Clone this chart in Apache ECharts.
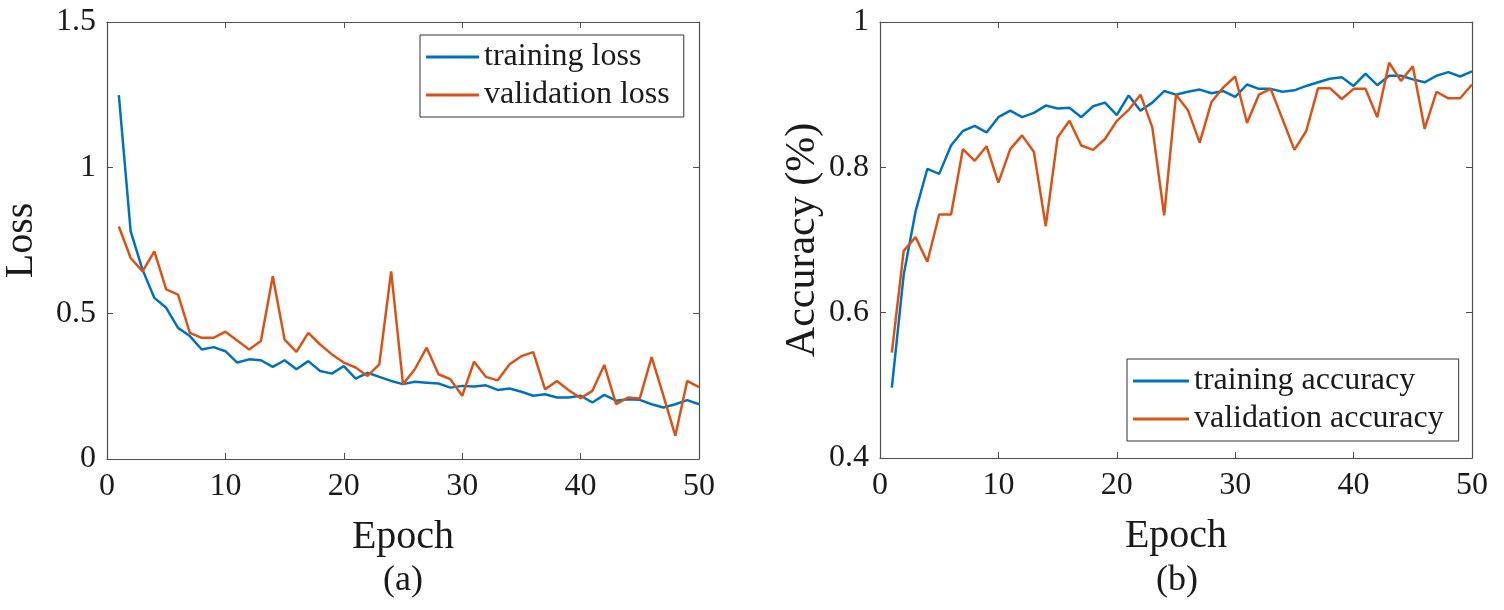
<!DOCTYPE html>
<html>
<head>
<meta charset="utf-8">
<script src="https://cdn.jsdelivr.net/npm/echarts@6/dist/echarts.min.js"></script>
<style>
  html, body { margin: 0; padding: 0; background: #fff; }
  #main { width: 1504px; height: 610px; }
</style>
</head>
<body>
<div id="main"></div>
<script>
// epochs on x axis
var epochs = [1, 2, 3, 4, 5, 6, 7, 8, 9, 10, 11, 12, 13, 14, 15, 16, 17, 18, 19, 20,
  21, 22, 23, 24, 25, 26, 27, 28, 29, 30, 31, 32, 33, 34, 35, 36, 37, 38, 39, 40,
  41, 42, 43, 44, 45, 46, 47, 48, 49, 50];

var trainLoss = [1.249, 0.781, 0.65, 0.553, 0.519, 0.45, 0.422, 0.376, 0.384, 0.37,
  0.331, 0.342, 0.339, 0.316, 0.339, 0.308, 0.336, 0.302, 0.293, 0.319,
  0.276, 0.296, 0.282, 0.268, 0.257, 0.265, 0.262, 0.259, 0.245, 0.251,
  0.249, 0.253, 0.237, 0.242, 0.231, 0.217, 0.222, 0.211, 0.211, 0.217,
  0.194, 0.22, 0.2, 0.205, 0.203, 0.188, 0.177, 0.188, 0.202, 0.188];

var valLoss = [0.798, 0.69, 0.644, 0.713, 0.582, 0.564, 0.433, 0.416, 0.416, 0.437,
  0.407, 0.376, 0.405, 0.627, 0.41, 0.368, 0.433, 0.393, 0.359, 0.331,
  0.314, 0.285, 0.325, 0.644, 0.257, 0.308, 0.382, 0.291, 0.274, 0.217,
  0.334, 0.282, 0.27, 0.325, 0.353, 0.367, 0.239, 0.268, 0.236, 0.209,
  0.234, 0.323, 0.188, 0.211, 0.208, 0.35, 0.217, 0.08, 0.268, 0.247];

var trainAcc = [0.497, 0.652, 0.739, 0.798, 0.791, 0.83, 0.85, 0.857, 0.848, 0.869,
  0.878, 0.869, 0.875, 0.885, 0.881, 0.882, 0.869, 0.884, 0.889, 0.872,
  0.899, 0.878, 0.889, 0.905, 0.9, 0.904, 0.907, 0.902, 0.905, 0.897,
  0.914, 0.908, 0.908, 0.904, 0.906, 0.912, 0.917, 0.922, 0.924, 0.912,
  0.929, 0.913, 0.926, 0.926, 0.921, 0.917, 0.926, 0.931, 0.925, 0.932];

var valAcc = [0.545, 0.685, 0.704, 0.67, 0.735, 0.735, 0.825, 0.809, 0.829, 0.779,
  0.825, 0.844, 0.821, 0.719, 0.841, 0.864, 0.83, 0.824, 0.839, 0.864,
  0.879, 0.9, 0.855, 0.734, 0.9, 0.879, 0.834, 0.89, 0.91, 0.925,
  0.861, 0.9, 0.908, 0.866, 0.824, 0.85, 0.909, 0.909, 0.894, 0.908,
  0.908, 0.869, 0.944, 0.919, 0.939, 0.853, 0.904, 0.895, 0.895, 0.914];

var xTicks = { min: 0, max: 50, interval: 10 };
var lossTicks = { min: 0, max: 1.5, interval: 0.5 };
var accTicks = { min: 0.4, max: 1, interval: 0.2 };

var FONT = 'Liberation Serif';
var AXIS_COLOR = '#4d4d4d';
var BLUE = '#0072BD';
var ORANGE = '#D95319';

function pairs(ys) {
  return epochs.map(function (e, i) { return [e, ys[i]]; });
}

// bottom / left axes carry labels, top / right ones only close the box
function xAx(grid, name, top) {
  return {
    type: 'value', gridIndex: grid, position: top ? 'top' : 'bottom',
    min: xTicks.min, max: xTicks.max, interval: xTicks.interval,
    name: top ? '' : name, nameLocation: 'middle', nameGap: 58,
    nameTextStyle: { fontFamily: FONT, fontSize: 40, color: '#1a1a1a' },
    axisLine: { show: true, onZero: false, lineStyle: { color: AXIS_COLOR, width: 1.2 } },
    axisTick: { show: true, inside: true, length: 6, lineStyle: { color: AXIS_COLOR } },
    axisLabel: { show: !top, fontFamily: FONT, fontSize: 32, color: '#1a1a1a', margin: 12 },
    splitLine: { show: false }
  };
}

function yAx(grid, ticks, name, gap, size, right) {
  return {
    type: 'value', gridIndex: grid, position: right ? 'right' : 'left',
    min: ticks.min, max: ticks.max, interval: ticks.interval,
    name: right ? '' : name, nameLocation: 'middle', nameGap: gap,
    nameTextStyle: { fontFamily: FONT, fontSize: size, color: '#1a1a1a' },
    axisLine: { show: true, onZero: false, lineStyle: { color: AXIS_COLOR, width: 1.2 } },
    axisTick: { show: true, inside: true, length: 6, lineStyle: { color: AXIS_COLOR } },
    axisLabel: { show: !right, fontFamily: FONT, fontSize: 32, color: '#1a1a1a', margin: 11 },
    splitLine: { show: false }
  };
}

function line(name, data, color, xi, yi) {
  return {
    name: name, type: 'line', xAxisIndex: xi, yAxisIndex: yi,
    data: pairs(data), symbol: 'none', smooth: false,
    lineStyle: { color: color, width: 2.5 }, itemStyle: { color: color },
    animation: false
  };
}

function legendBox(names, left, top, iconW, pad) {
  return {
    data: names, orient: 'vertical', left: left, top: top,
    icon: 'rect', itemWidth: iconW, itemHeight: 3, itemGap: 2,
    padding: pad, borderColor: '#333', borderWidth: 1, backgroundColor: '#fff',
    selectedMode: false,
    textStyle: { fontFamily: FONT, fontSize: 32, color: '#1a1a1a', lineHeight: 36 }
  };
}

var chart = echarts.init(document.getElementById('main'));
chart.setOption({
  backgroundColor: '#fff',
  animation: false,
  title: [
    { text: '(a)', left: 403, top: 563, textAlign: 'center', padding: 0,
      textStyle: { fontFamily: FONT, fontSize: 36, fontWeight: 'normal', color: '#1a1a1a' } },
    { text: '(b)', left: 1177, top: 563, textAlign: 'center', padding: 0,
      textStyle: { fontFamily: FONT, fontSize: 36, fontWeight: 'normal', color: '#1a1a1a' } }
  ],
  grid: [
    { left: 106, top: 22, width: 593, height: 437 },
    { left: 880, top: 22, width: 592, height: 436 }
  ],
  xAxis: [xAx(0, 'Epoch', false), xAx(0, '', true), xAx(1, 'Epoch', false), xAx(1, '', true)],
  yAxis: [
    yAx(0, lossTicks, 'Loss', 66, 40, false), yAx(0, lossTicks, '', 0, 40, true),
    yAx(1, accTicks, 'Accuracy (%)', 56, 42, false), yAx(1, accTicks, '', 0, 42, true)
  ],
  legend: [
    legendBox(['training loss', 'validation loss'], 420, 35, 53, [4, 14, 4, 6]),
    legendBox(['training accuracy', 'validation accuracy'], 1127, 359, 56, [4, 15, 4, 6])
  ],
  series: [
    line('training loss', trainLoss, BLUE, 0, 0),
    line('validation loss', valLoss, ORANGE, 0, 0),
    line('training accuracy', trainAcc, BLUE, 2, 2),
    line('validation accuracy', valAcc, ORANGE, 2, 2)
  ]
});
</script>
</body>
</html>
